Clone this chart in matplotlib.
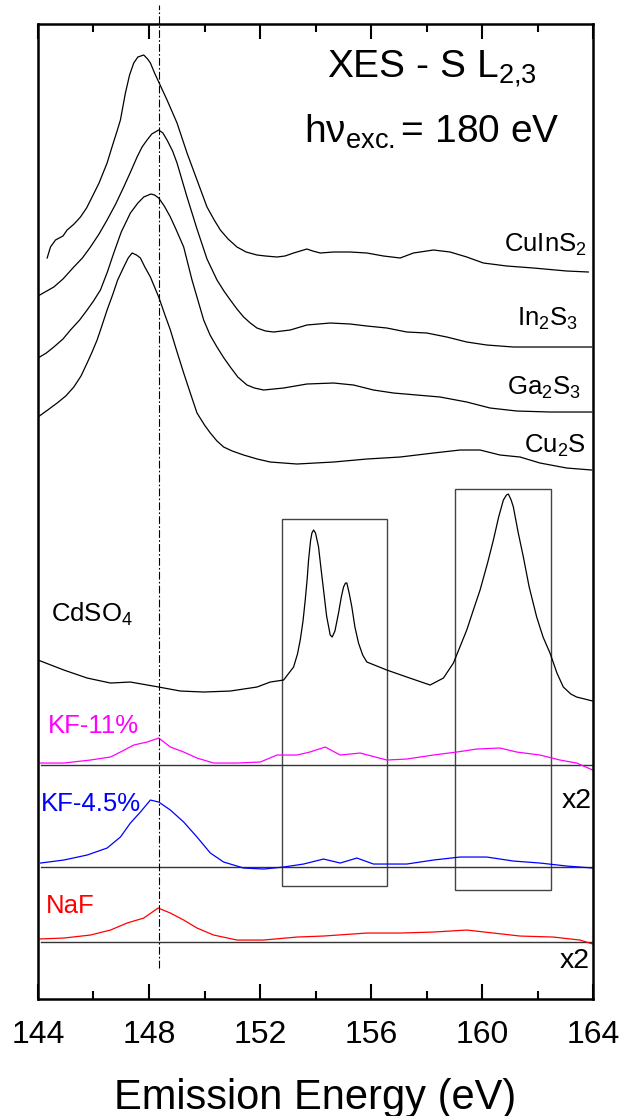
import matplotlib
matplotlib.use("Agg")
import matplotlib.pyplot as plt
from matplotlib.patches import Rectangle
from matplotlib.ticker import MultipleLocator

plt.rcParams["font.family"] = ["Liberation Sans", "DejaVu Sans"]
plt.rcParams["mathtext.fontset"] = "custom"
plt.rcParams["mathtext.rm"] = "Liberation Sans"
plt.rcParams["mathtext.it"] = "Liberation Sans:italic"
plt.rcParams["mathtext.default"] = "regular"

# spectra: emission energy (eV) and intensity + offset (arb. units)
cuins2_e = [144.33, 144.45, 144.63, 144.9, 145.05, 145.3, 145.53, 145.75, 145.95, 146.2,
            146.49, 146.7, 146.85, 146.97, 147.15, 147.3, 147.45, 147.6, 147.81, 147.95,
            148.05, 148.2, 148.35, 148.65, 149.01, 149.37, 149.73, 150.09, 150.35, 150.57,
            150.85, 151.17, 151.5, 151.89, 152.2, 152.61, 152.9, 153.21, 153.45, 153.69,
            153.9, 154.17, 154.65, 155.25, 155.85, 156.45, 157.05, 157.53, 158.25, 158.85,
            159.45, 160.05, 160.89, 161.85, 163.05, 163.83]
cuins2_i = [741, 752, 759, 763, 769, 775, 782, 791, 802, 816,
            836, 855, 868, 879, 906, 924, 936, 942, 944, 940,
            936, 926, 917, 899, 876, 846, 819, 792, 779, 769,
            760, 752, 747, 744, 743, 742, 743, 746, 748, 750,
            748, 746, 747, 747, 746, 743, 741, 746, 749, 747,
            742, 736, 733, 731, 728, 727]

in2s3_e = [144.0, 144.57, 144.9, 145.29, 145.6, 145.89, 146.2, 146.49, 146.8, 147.09,
           147.35, 147.57, 147.75, 147.93, 148.1, 148.35, 148.5, 148.65, 148.85, 149.01,
           149.37, 149.73, 150.09, 150.45, 150.7, 150.93, 151.17, 151.41, 151.65, 151.89,
           152.2, 152.49, 153.09, 153.69, 154.53, 155.25, 155.85, 156.57, 157.29, 158.01,
           158.73, 159.45, 160.17, 161.13, 162.45, 163.95]
in2s3_i = [703, 712, 720, 732, 741, 752, 765, 779, 795, 812,
           828, 842, 852, 859, 865, 869, 866, 859, 848, 836,
           802, 770, 740, 719, 708, 699, 690, 682, 676, 671,
           668, 667, 669, 674, 676, 675, 673, 671, 667, 666,
           662, 657, 654, 652, 652, 652]

ga2s3_e = [144.0, 144.3, 144.57, 144.9, 145.17, 145.5, 145.77, 146.0, 146.25, 146.5,
           146.73, 147.0, 147.33, 147.6, 147.81, 148.07, 148.2, 148.35, 148.55, 148.77,
           149.0, 149.25, 149.55, 149.97, 150.2, 150.45, 150.7, 150.93, 151.2, 151.53,
           151.8, 152.13, 152.85, 153.69, 154.65, 155.37, 156.09, 156.81, 157.65, 158.49,
           159.45, 160.29, 161.25, 162.45, 163.95]
ga2s3_i = [641, 646, 652, 660, 669, 679, 689, 698, 709, 727,
           746, 767, 786, 796, 802, 805, 804, 801, 793, 782,
           768, 752, 719, 679, 664, 652, 641, 632, 622, 614,
           611, 609, 611, 615, 616, 614, 609, 606, 604, 602,
           597, 591, 588, 587, 587]

cu2s_e = [144.0, 144.35, 144.69, 145.0, 145.29, 145.55, 145.77, 145.95, 146.13, 146.3,
          146.49, 146.7, 146.87, 147.09, 147.25, 147.39, 147.55, 147.69, 147.85, 148.05,
          148.2, 148.35, 148.55, 148.77, 149.0, 149.25, 149.5, 149.73, 150.0, 150.21,
          150.45, 150.69, 151.0, 151.41, 151.9, 152.37, 153.33, 154.65, 155.85, 157.05,
          158.25, 159.21, 159.93, 160.65, 161.37, 162.09, 163.05, 163.95]
cu2s_i = [582, 589, 596, 603, 612, 623, 636, 647, 659, 673,
          689, 705, 719, 732, 741, 746, 744, 741, 732, 722,
          712, 702, 686, 669, 648, 626, 605, 586, 574, 566,
          558, 552, 548, 544, 540, 537, 535, 537, 540, 542,
          546, 549, 549, 544, 542, 536, 531, 529]

cdso4_e = [144.0, 144.93, 145.77, 146.61, 147.33, 148.35, 149.13, 149.97, 150.93, 151.89,
           152.37, 152.85, 153.21, 153.35, 153.45, 153.55, 153.63, 153.7, 153.75, 153.82,
           153.87, 153.93, 154.0, 154.11, 154.2, 154.29, 154.4, 154.53, 154.6, 154.7,
           154.83, 154.93, 155.01, 155.08, 155.13, 155.22, 155.31, 155.42, 155.55, 155.7,
           155.85, 156.57, 157.29, 158.13, 158.61, 158.97, 159.45, 159.7, 159.93, 160.2,
           160.41, 160.6, 160.77, 160.88, 160.95, 161.05, 161.13, 161.3, 161.49, 161.7,
           161.97, 162.2, 162.45, 162.7, 162.93, 163.2, 163.41, 163.7, 163.99]
cdso4_i = [339, 329, 321, 316, 317, 312, 308, 307, 308, 312,
           317, 319, 332, 345, 359, 378, 399, 420, 439, 458,
           466, 469, 466, 452, 430, 409, 383, 364, 362, 368,
           386, 402, 412, 416, 416, 405, 392, 372, 356, 344,
           337, 329, 322, 314, 321, 336, 369, 390, 409, 436,
           459, 482, 499, 504, 505, 499, 492, 467, 442, 412,
           382, 362, 346, 326, 312, 305, 302, 300, 298]

kf11_e = [144.0, 144.93, 145.89, 146.61, 146.97, 147.45, 147.93, 148.35, 148.77, 149.25,
          149.73, 150.33, 151.17, 152.01, 152.61, 153.33, 153.8, 154.35, 154.89, 155.61,
          156.57, 157.29, 158.25, 159.09, 159.81, 160.65, 161.25, 162.09, 162.81, 163.41,
          163.99]
kf11_i = [236, 236, 239, 242, 247, 254, 257, 261, 252, 247,
          241, 236, 236, 237, 244, 244, 247, 252, 244, 246,
          239, 240, 244, 247, 250, 251, 247, 244, 239, 236,
          229]

kf45_e = [144.09, 144.93, 145.77, 146.49, 146.97, 147.33, 147.69, 148.05, 148.35, 148.77,
          149.25, 149.73, 150.21, 150.69, 151.41, 152.13, 152.85, 153.57, 154.29, 154.89,
          155.49, 156.09, 157.29, 158.25, 159.21, 160.17, 161.13, 162.09, 163.05, 163.99]
kf45_i = [136, 139, 144, 151, 162, 176, 187, 199, 197, 189,
          177, 162, 146, 137, 131, 130, 132, 135, 140, 136,
          141, 135, 135, 139, 142, 142, 138, 136, 133, 131]

naf_e = [144.0, 144.93, 145.89, 146.61, 147.21, 147.81, 148.33, 148.77, 149.25, 149.73,
         150.33, 151.17, 152.13, 153.33, 154.29, 155.85, 157.05, 158.25, 159.45, 160.41,
         161.37, 162.57, 163.53, 163.99]
naf_i = [60, 61, 64, 69, 76, 81, 91, 86, 79, 71,
         64, 59, 59, 62, 63, 66, 66, 67, 69, 66,
         63, 62, 59, 55]

zero_levels = [234, 132, 57]  # KF-11%, KF-4.5%, NaF
ref_energy = 148.35
boxes = [(152.79, 156.57, 113, 480), (159.03, 162.47, 109, 510)]

fig = plt.figure(figsize=(6.26, 11.16), dpi=100)
ax = fig.add_axes([0.0607, 0.1048, 0.8866, 0.8737])

for xs, ys in [(cuins2_e, cuins2_i), (in2s3_e, in2s3_i), (ga2s3_e, ga2s3_i),
               (cu2s_e, cu2s_i), (cdso4_e, cdso4_i)]:
    ax.plot(xs, ys, color="black", lw=0.9)

for lvl in zero_levels:
    ax.plot([144.1, 164], [lvl, lvl], color="#333333", lw=1.0)

ax.plot(kf11_e, kf11_i, color="#ff00ff", lw=0.9)
ax.plot(kf45_e, kf45_i, color="#0000ff", lw=0.9)
ax.plot(naf_e, naf_i, color="#ff0000", lw=0.9)

for x0, x1, y0, y1 in boxes:
    ax.add_patch(Rectangle((x0, y0), x1 - x0, y1 - y0, fill=False,
                           edgecolor="#444444", lw=1.0))

ax.plot([ref_energy, ref_energy], [31, 994], color="black", lw=0.8,
        dashes=(7, 2, 1.5, 2), clip_on=False)

ax.set_xlim(144, 164)
ax.set_ylim(0, 975)
ax.set_yticks([])
ax.xaxis.set_major_locator(MultipleLocator(4))
ax.xaxis.set_minor_locator(MultipleLocator(2))
ax.tick_params(axis="x", which="both", direction="in", top=True, bottom=True,
               width=1.5, labelsize=23, pad=15)
ax.tick_params(axis="x", which="major", length=11)
ax.tick_params(axis="x", which="minor", length=5.8)
for sp in ax.spines.values():
    sp.set_linewidth(1.8)
ax.set_xlabel("Emission Energy (eV)", fontsize=30, labelpad=20)

ax.text(158.2, 922, "XES - S L$_{2{,}3}$", fontsize=28, ha="center", va="baseline")
ax.text(158.2, 856, "h\u03bd$_{exc.}$= 180 eV", fontsize=28, ha="center", va="baseline")

lab = 18.5
ax.text(163.78, 747, "CuInS$_2$", fontsize=lab, ha="right", va="baseline")
ax.text(163.45, 673, "In$_2$S$_3$", fontsize=lab, ha="right", va="baseline")
ax.text(163.57, 604, "Ga$_2$S$_3$", fontsize=lab, ha="right", va="baseline")
ax.text(163.74, 546, "Cu$_2$S", fontsize=lab, ha="right", va="baseline")
ax.text(144.48, 377, "CdSO$_4$", fontsize=lab, ha="left", va="baseline")
ax.text(144.34, 266, "KF-11%", fontsize=lab, color="#ff00ff", ha="left", va="baseline")
ax.text(144.09, 188, "KF-4.5%", fontsize=lab, color="#0000ff", ha="left", va="baseline")
ax.text(144.27, 86, "NaF", fontsize=lab, color="#ff0000", ha="left", va="baseline")
ax.text(163.95, 191, "x2", fontsize=lab + 2, ha="right", va="baseline")
ax.text(163.89, 31, "x2", fontsize=lab + 2, ha="right", va="baseline")

fig.savefig("out.png", dpi=100)
